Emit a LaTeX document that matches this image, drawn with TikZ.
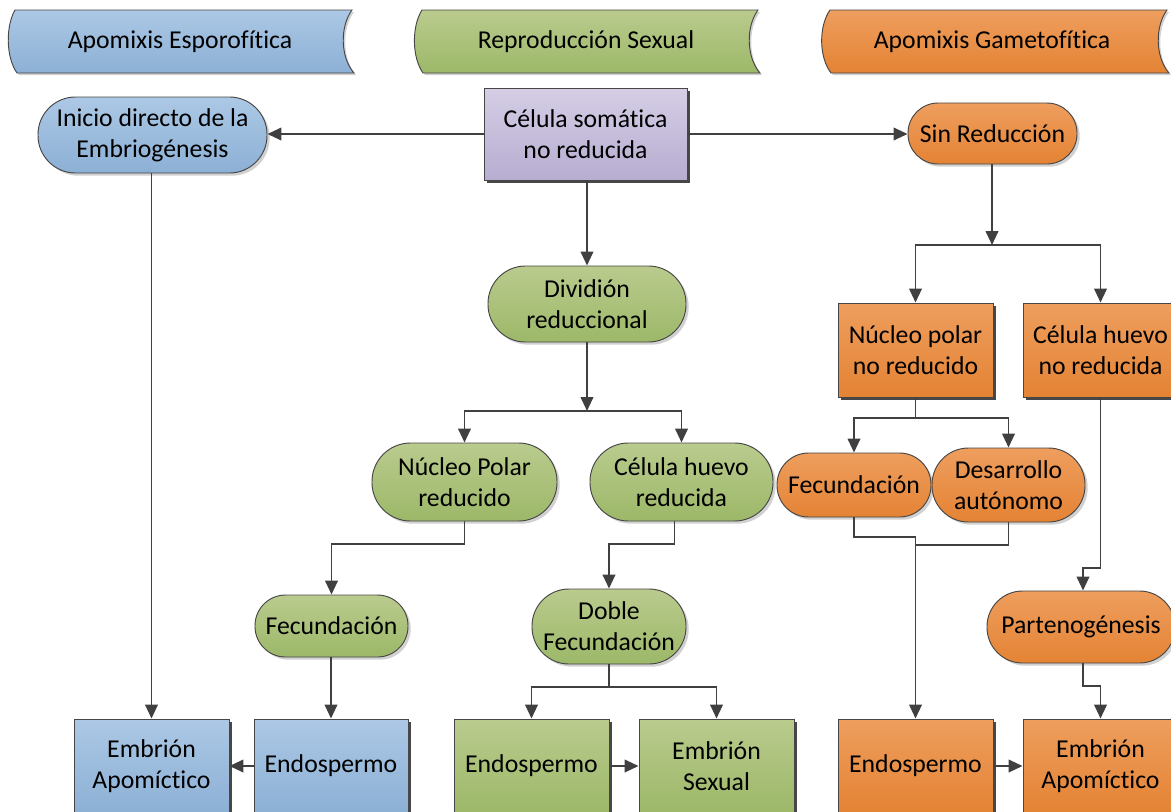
\documentclass[tikz,border=0pt]{standalone}
\usepackage{fontspec}
\setmainfont{Carlito}[Ligatures=NoCommon]
\usetikzlibrary{arrows.meta,shadows,calc}
\definecolor{blueT}{RGB}{172,200,229}
\definecolor{blueB}{RGB}{140,176,213}
\definecolor{greenT}{RGB}{186,203,142}
\definecolor{greenB}{RGB}{156,184,104}
\definecolor{orangeT}{RGB}{238,158,94}
\definecolor{orangeB}{RGB}{228,131,52}
\definecolor{purpleT}{RGB}{213,206,229}
\definecolor{purpleB}{RGB}{183,173,209}
\definecolor{bord}{RGB}{70,70,70}
\definecolor{lin}{RGB}{64,64,64}
\begin{document}
\begin{tikzpicture}[x=0.75pt,y=-0.75pt,
  txt/.style={font=\fontsize{19.3}{23.3}\selectfont, align=center, text=black, inner sep=0pt},
  rbox/.style n args={3}{txt, draw=bord, line width=0.7pt, top color=#3T, bottom color=#3B,
     minimum width=#1*0.75pt, minimum height=#2*0.75pt,
     drop shadow={shadow xshift=2.2pt, shadow yshift=-2.2pt, fill=black!80, opacity=0.9}},
  sbox/.style n args={3}{txt, draw=bord, line width=0.7pt, top color=#3T, bottom color=#3B,
     minimum width=#1*0.75pt, minimum height=#2*0.75pt, rounded corners=#2*0.37pt,
     drop shadow={shadow xshift=2pt, shadow yshift=-2pt, fill=black!30, opacity=0.6}},
  banner/.style={draw=bord, line width=0.7pt, top color=#1T, bottom color=#1B},
  conn/.style={draw=lin, line width=1.4pt},
  arr/.style={conn, -{Triangle[length=10.5pt,width=9.5pt]}}
]
\useasboundingbox (0,0) rectangle (1171,811);
\clip (0,0) rectangle (1171,811);

% banners
\fill[black!18] (17,12) -- (354,12) .. controls (342,28) and (342,59) .. (356,75) -- (19,75) .. controls (7.7,59) and (7.7,28) .. (17,12) -- cycle;
\path[banner=blue] (15,10) -- (352,10) .. controls (340,26) and (340,57) .. (354,73) -- (17,73) .. controls (5.7,57) and (5.7,26) .. (15,10) -- cycle;
\fill[black!18] (424,12) -- (760,12) .. controls (748,28) and (748,59) .. (762,75) -- (425,75) .. controls (413.7,59) and (413.7,28) .. (424,12) -- cycle;
\path[banner=green] (422,10) -- (758,10) .. controls (746,26) and (746,57) .. (760,73) -- (423,73) .. controls (411.7,57) and (411.7,26) .. (422,10) -- cycle;
\fill[black!18] (832,12) -- (1169,12) .. controls (1157,28) and (1157,59) .. (1171,75) -- (833,75) .. controls (820.7,59) and (820.7,28) .. (832,12) -- cycle;
\path[banner=orange] (830,10) -- (1167,10) .. controls (1155,26) and (1155,57) .. (1169,73) -- (831,73) .. controls (818.7,57) and (818.7,26) .. (830,10) -- cycle;
\node[txt] (hb) at (180,42) {Apomixis Esporofítica};
\node[txt] (hg) at (586,42) {Reproducción Sexual};
\node[txt] (ho) at (992,42) {Apomixis Gametofítica};

% top row
\node[sbox={229}{76}{blue}] (inicio) at (152.5,135) {Inicio directo de la\\Embriogénesis};
\node[rbox={203}{92}{purple}] (celsom) at (585.5,134) {Célula somática\\no reducida};
\node[sbox={169}{61}{orange}] (sinred) at (992.5,133.5) {Sin Reducción};

% sexual
\node[sbox={198}{76}{green}] (divid) at (587,304) {Dividión\\reduccional};
\node[sbox={185}{78}{green}] (npr) at (464.5,482) {Núcleo Polar\\reducido};
\node[sbox={183}{78}{green}] (chr) at (681.5,482) {Célula huevo\\reducida};
\node[sbox={153}{62}{green}] (fecg) at (331.5,626) {Fecundación};
\node[sbox={154}{75}{green}] (doble) at (609,626.5) {Doble\\Fecundación};

% bottom row
\node[rbox={155}{94}{blue}] (embA) at (151.5,766) {Embrión\\Apomíctico};
\node[rbox={154}{94}{blue}] (endB) at (331,766) {Endospermo};
\node[rbox={155}{94}{green}] (endG) at (531.5,766) {Endospermo};
\node[rbox={155}{94}{green}] (embS) at (716.5,766) {Embrión\\Sexual};
\node[rbox={155}{94}{orange}] (endO) at (915.5,766) {Endospermo};
\node[rbox={155}{94}{orange}] (embO) at (1100.5,766) {Embrión\\Apomíctico};

% gametofitica
\node[rbox={155}{94}{orange}] (npnr) at (915.5,350) {Núcleo polar\\no reducido};
\node[rbox={155}{94}{orange}] (chnr) at (1100.5,350) {Célula huevo\\no reducida};
\node[sbox={154}{64}{orange}] (fecO) at (854,485) {Fecundación};
\node[sbox={153}{74}{orange}] (desa) at (1008.5,485) {Desarrollo\\autónomo};
\node[sbox={188}{72}{orange}] (parte) at (1081,627) {Partenogénesis};

% junction coordinates
\coordinate (j1) at (992,245);
\coordinate (j2) at (587,411);
\coordinate (k1) at (0,544);
\coordinate (k2) at (0,687);
\coordinate (k3) at (0,418);
\coordinate (m1) at (915.5,537);
\coordinate (m2) at (915.5,545);
\coordinate (k4) at (0,568);
\coordinate (k5) at (0,686);

% connectors
\draw[arr] (celsom.west) -- (celsom.west -| inicio.east);
\draw[arr] (celsom.east) -- (celsom.east -| sinred.west);
\draw[arr] (celsom.south -| divid.north) -- (divid.north);

\draw[arr] (sinred.south -| j1) -- (j1);
\draw[arr] (j1) -| (npnr.north);
\draw[arr] (j1) -| (chnr.north);

\draw[arr] (divid.south) -- (j2);
\draw[arr] (j2) -| (npr.north);
\draw[arr] (j2) -| (chr.north);

\draw[arr] (npr.south) -- (npr.south |- k1) -| (fecg.north);
\draw[arr] ($(chr.south)+(-7,0)$) -- ($(chr.south |- k1)+(-7,0)$) -| (doble.north);
\draw[arr] (fecg.south -| endB.north) -- (endB.north);
\draw[arr] (inicio.south -| embA.north) -- (embA.north);
\draw[arr] (endB.west) -- (embA.east);

\draw[conn] (doble.south) -- (doble.south |- k2);
\draw[arr] (doble.south |- k2) -| (endG.north);
\draw[arr] (doble.south |- k2) -| (embS.north);
\draw[arr] (endG.east) -- (embS.west);

\draw[conn] (npnr.south) -- (npnr.south |- k3);
\draw[arr] (npnr.south |- k3) -| (fecO.north);
\draw[arr] (npnr.south |- k3) -| (desa.north);
\draw[conn] (fecO.south) |- (m1);
\draw[conn] (desa.south) |- (m2);
\draw[arr] (m1) -- (m1 |- endO.north);

\draw[arr] (chnr.south) -- (chnr.south |- k4) -| ($(parte.north)+(2,0)$);
\draw[arr] ($(parte.south)+(2,0)$) -- ($(parte.south |- k5)+(2,0)$) -| (embO.north);
\draw[arr] (endO.east) -- (embO.west);
\end{tikzpicture}
\end{document}
